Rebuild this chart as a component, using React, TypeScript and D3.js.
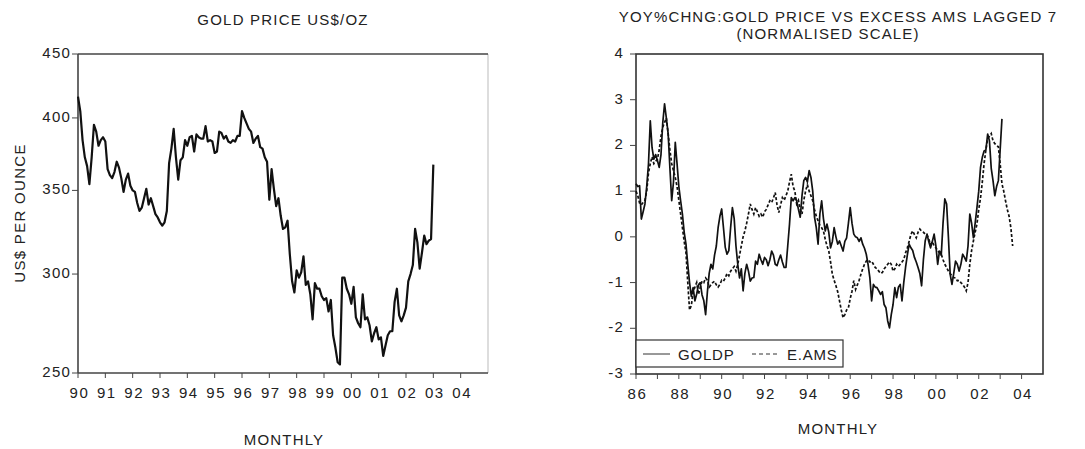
import React from 'react';
import * as d3 from 'd3';

// Left chart: gold price, month-end, Jan 1990 .. Jan 2003 (US$/oz)
const goldStartYear = 1990;
const goldPrice = [
  416, 405, 384, 372, 366, 354, 372, 395, 390, 380, 384, 386,
  383, 364, 360, 358, 362, 369, 365, 358, 349, 357, 361, 353,
  350, 349, 342, 337, 339, 345, 351, 341, 345, 340, 335, 333,
  330, 328, 330, 337, 368, 378, 392, 372, 357, 370, 372, 384,
  380, 386, 387, 376, 388, 386, 385, 385, 394, 383, 384, 383,
  375, 376, 390, 389, 385, 387, 383, 382, 384, 383, 387, 387,
  405, 400, 396, 392, 390, 382, 385, 387, 379, 378, 372, 369,
  344, 364, 351, 340, 345, 334, 326, 327, 331, 311, 296, 290,
  302, 298, 301, 310, 294, 296, 289, 276, 295, 292, 292, 288,
  286, 287, 280, 286, 268, 262, 255, 254, 298, 298, 292, 289,
  284, 293, 277, 274, 272, 289, 276, 277, 273, 265, 269, 272,
  266, 267, 258, 263, 268, 270, 270, 285, 292, 278, 275, 278,
  282, 296, 300, 305, 326, 318, 303, 312, 322, 317, 319, 320,
  367,
];
const goldYTicks = [250, 300, 350, 400, 450];
const goldXTickYears = [1990, 1991, 1992, 1993, 1994, 1995, 1996, 1997, 1998, 1999, 2000, 2001, 2002, 2003, 2004];
const goldXLabels = ['90', '91', '92', '93', '94', '95', '96', '97', '98', '99', '00', '01', '02', '03', '04'];

// Right chart: normalised YoY % change, monthly from Jan 1986
const yoyStartYear = 1986;
const goldp = [
  1.16, 1.1, 1.12, 0.39, 0.55, 0.72, 1.1, 1.6, 2.54, 1.95, 1.7, 1.8,
  1.67, 1.52, 1.8, 2.5, 2.91, 2.6, 2.26, 1.5, 0.79, 1.2, 2.07, 1.6,
  1.1, 0.79, 0.5, 0.1, -0.16, -0.6, -1.0, -1.3, -1.11, -1.4, -1.25, -1.05,
  -1.0, -1.27, -1.4, -1.7, -1.2, -0.8, -0.6, -0.7, -0.4, -0.2, 0.2, 0.45,
  0.61, 0.2, -0.23, -0.38, -0.3, 0.2, 0.64, 0.4, -0.2, -0.6, -0.9, -0.7,
  -1.18, -0.8, -0.6, -0.75, -0.97, -0.9, -0.89, -0.53, -0.6, -0.38, -0.5, -0.6,
  -0.45, -0.5, -0.63, -0.5, -0.31, -0.4, -0.6, -0.63, -0.5, -0.4, -0.55, -0.67,
  -0.67, -0.2, 0.28, 0.86, 0.79, 0.86, 0.79, 0.6, 0.43, 0.9, 1.23, 1.3,
  1.2, 1.45, 1.3, 1.0, 0.43, 0.2, -0.16, 0.5, 0.79, 0.4, 0.13, 0.28,
  0.1, -0.24, -0.1, 0.2, 0.0, -0.16, -0.09, -0.2, -0.31, -0.1, -0.02, 0.3,
  0.64, 0.3, 0.06, 0.0, -0.02, -0.1, -0.02, -0.16, -0.25, -0.38, -0.6, -0.89,
  -1.4, -1.04, -1.1, -1.11, -1.18, -1.26, -1.2, -1.48, -1.55, -1.84, -1.99, -1.7,
  -1.48, -1.11, -1.33, -1.1, -1.04, -1.4, -1.0, -0.67, -0.4, -0.16, -0.24, -0.3,
  -0.45, -0.55, -0.67, -0.8, -1.07, -0.5, -0.09, 0.06, -0.1, -0.24, -0.1, 0.06,
  -0.2, -0.6, -0.31, -0.4, 0.3, 0.83, 0.72, 0.0, -0.82, -1.04, -0.8, -0.53,
  -0.6, -0.75, -0.6, -0.38, -0.45, -0.53, -0.2, 0.5, 0.3, -0.02, 0.3, 0.64,
  1.0, 1.52, 1.74, 1.88, 1.9, 2.25, 2.1, 1.5, 1.23, 0.9, 1.1, 1.23,
  1.9, 2.58,
];
const eams = [
  1.0, 0.9, 0.74, 0.7, 0.75, 0.8, 1.0, 1.4, 1.6, 1.75, 1.6, 1.65,
  1.7, 1.9, 2.2, 2.4, 2.5, 2.6, 2.26, 1.9, 1.6, 1.45, 1.3, 1.1,
  0.8, 0.5, 0.2, -0.1, -0.35, -1.0, -1.6, -1.5, -1.2, -1.1, -1.0, -1.26,
  -1.1, -0.97, -1.0, -0.9, -0.95, -1.1, -1.05, -1.0, -0.97, -1.05, -1.1, -1.04,
  -0.95, -0.97, -0.9, -0.8, -0.85, -0.75, -0.7, -0.65, -0.75, -0.6, -0.4, -0.2,
  0.0, 0.13, 0.3, 0.5, 0.72, 0.6, 0.5, 0.64, 0.55, 0.45, 0.5, 0.43,
  0.55, 0.6, 0.7, 0.79, 0.75, 0.85, 0.97, 0.7, 0.53, 0.7, 0.86, 0.8,
  0.9, 1.0, 1.2, 1.37, 1.1, 1.0, 0.72, 0.8, 0.6, 0.5, 0.8, 1.0,
  1.14, 1.0, 0.9, 0.79, 0.6, 0.45, 0.35, 0.25, 0.2, 0.13, -0.05, -0.2,
  -0.31, -0.55, -0.82, -0.95, -1.07, -1.2, -1.4, -1.6, -1.77, -1.7, -1.6, -1.55,
  -1.35, -1.19, -0.96, -1.15, -1.05, -0.95, -0.82, -0.7, -0.6, -0.53, -0.5, -0.55,
  -0.53, -0.6, -0.67, -0.7, -0.75, -0.8, -0.78, -0.7, -0.65, -0.6, -0.55, -0.6,
  -0.75, -0.7, -0.6, -0.65, -0.6, -0.55, -0.5, -0.35, -0.24, -0.1, 0.05, 0.13,
  0.05, -0.02, 0.1, 0.17, 0.12, 0.1, 0.06, 0.05, -0.05, -0.16, -0.1, -0.2,
  -0.24, -0.3, -0.35, -0.38, -0.5, -0.6, -0.67, -0.75, -0.8, -0.85, -0.89, -0.9,
  -0.96, -0.95, -1.0, -1.04, -1.1, -1.18, -1.0, -0.6, -0.3, -0.09, 0.1, 0.28,
  0.6, 0.85, 1.2, 1.6, 1.9, 2.15, 2.2, 2.26, 2.1, 2.04, 2.0, 1.97,
  1.6, 1.16, 1.0, 0.79, 0.6, 0.45, 0.2, -0.2,
];
const yoyYTicks = [-3, -2, -1, 0, 1, 2, 3, 4];
const yoyXTickYears = d3.range(1986, 2005);
const yoyXLabelYears = [1986, 1988, 1990, 1992, 1994, 1996, 1998, 2000, 2002, 2004];
const yoyXLabels = ['86', '88', '90', '92', '94', '96', '98', '00', '02', '04'];

const FONT = '"Liberation Sans", Arial, sans-serif';
const TXT = '#222';

export default function App() {
  // Left chart geometry
  const L = { left: 78, right: 488, top: 54, bottom: 373 };
  const lx = d3.scaleLinear().domain([1990, 2005]).range([L.left, L.right]);
  const ly = d3.scaleLog().domain([250, 450]).range([L.bottom, L.top]);
  const goldLine = d3
    .line<number>()
    .x((_, i) => lx(goldStartYear + i / 12))
    .y((d) => ly(d));

  // Right chart geometry
  const R = { left: 636, right: 1043, top: 54, bottom: 374 };
  const rx = d3.scaleLinear().domain([1986, 2005]).range([R.left, R.right]);
  const ry = d3.scaleLinear().domain([-3, 4]).range([R.bottom, R.top]);
  const yoyLine = d3
    .line<number>()
    .x((_, i) => rx(yoyStartYear + i / 12))
    .y((d) => ry(d));

  const txt = { fontFamily: FONT, fill: TXT, fontSize: 15, letterSpacing: 1.1 } as React.CSSProperties;
  const tick = { ...txt, fontSize: 15, letterSpacing: 1.2 } as React.CSSProperties;

  return (
    <svg width={1085} height={449} style={{ position: 'absolute', left: 0, top: 0, background: '#fff' }}>
      <rect x={0} y={0} width={1085} height={449} fill="#fff" />

      {/* ---------- LEFT CHART ---------- */}
      <text x={283} y={25} textAnchor="middle" style={{ ...txt, fontSize: 15, letterSpacing: 1.2 }}>GOLD PRICE US$/OZ</text>
      <text
        transform={`translate(25,213) rotate(-90)`}
        textAnchor="middle"
        style={{ ...txt, fontSize: 15, letterSpacing: 1.3 }}
      >US$ PER OUNCE</text>
      <text x={284} y={445} textAnchor="middle" style={{ ...txt, fontSize: 15, letterSpacing: 1.2 }}>MONTHLY</text>

      {/* frame */}
      <line x1={L.right} x2={L.right} y1={L.top} y2={L.bottom} stroke="#bbb" strokeWidth={1} />
      <line x1={L.left} x2={L.right} y1={L.top} y2={L.top} stroke="#444" strokeWidth={1.6} />
      <line x1={L.left} x2={L.right} y1={L.bottom} y2={L.bottom} stroke="#444" strokeWidth={1.6} />
      <line x1={L.left} x2={L.left} y1={L.top} y2={L.bottom} stroke="#444" strokeWidth={1.6} />

      {goldYTicks.map((v) => (
        <g key={'gy' + v}>
          <line x1={L.left - 6} x2={L.left} y1={ly(v)} y2={ly(v)} stroke="#444" strokeWidth={1} />
          <text x={L.left - 7} y={ly(v) + 4} textAnchor="end" style={tick}>{v}</text>
        </g>
      ))}
      {goldXTickYears.map((yr, i) => (
        <g key={'gx' + yr}>
          <line x1={lx(yr)} x2={lx(yr)} y1={L.bottom} y2={L.bottom + 5} stroke="#444" strokeWidth={1} />
          <text x={lx(yr) + 1.5} y={398} textAnchor="middle" style={{ ...tick, letterSpacing: 1.6 }}>{goldXLabels[i]}</text>
        </g>
      ))}

      <path d={goldLine(goldPrice) || ''} fill="none" stroke="#111" strokeWidth={2.2} strokeLinejoin="round" />

      {/* ---------- RIGHT CHART ---------- */}
      <text x={838} y={22} textAnchor="middle" style={{ ...txt, fontSize: 15, letterSpacing: 1.15 }}>YOY%CHNG:GOLD PRICE VS EXCESS AMS LAGGED 7</text>
      <text x={828} y={39} textAnchor="middle" style={{ ...txt, fontSize: 15, letterSpacing: 1.15 }}>(NORMALISED SCALE)</text>
      <text x={838} y={434} textAnchor="middle" style={{ ...txt, fontSize: 15, letterSpacing: 1.2 }}>MONTHLY</text>

      <rect x={R.left} y={R.top} width={R.right - R.left} height={R.bottom - R.top} fill="none" stroke="#333" strokeWidth={1.6} />

      {yoyYTicks.map((v) => (
        <g key={'ry' + v}>
          <line x1={R.left - 6} x2={R.left} y1={ry(v)} y2={ry(v)} stroke="#444" strokeWidth={1} />
          <text x={R.left - 12} y={ry(v) + 4} textAnchor="end" style={tick}>{v}</text>
        </g>
      ))}
      {yoyXTickYears.map((yr) => (
        <line key={'rx' + yr} x1={rx(yr)} x2={rx(yr)} y1={R.bottom} y2={R.bottom + 5} stroke="#444" strokeWidth={1} />
      ))}
      {yoyXLabelYears.map((yr, i) => (
        <text key={'rxl' + yr} x={rx(yr) + 1.5} y={399} textAnchor="middle" style={{ ...tick, letterSpacing: 1.6 }}>{yoyXLabels[i]}</text>
      ))}

      <path d={yoyLine(eams) || ''} fill="none" stroke="#111" strokeWidth={1.7} strokeDasharray="3 2" />
      <path d={yoyLine(goldp) || ''} fill="none" stroke="#111" strokeWidth={1.7} strokeLinejoin="round" />

      {/* legend */}
      <rect x={636} y={340} width={207} height={27} fill="#fff" stroke="#333" strokeWidth={1.2} />
      <line x1={643} x2={670} y1={354} y2={354} stroke="#333" strokeWidth={1} />
      <text x={678} y={360} style={{ ...txt, fontSize: 15, letterSpacing: 0.8 }}>GOLDP</text>
      <line x1={752} x2={780} y1={354} y2={354} stroke="#333" strokeWidth={1} strokeDasharray="4 3" />
      <text x={787} y={360} style={{ ...txt, fontSize: 15, letterSpacing: 0.8 }}>E.AMS</text>
    </svg>
  );
}
